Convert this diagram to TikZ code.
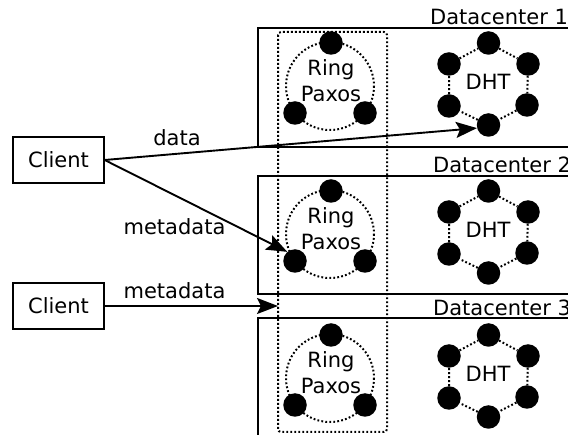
\documentclass[tikz,border=0pt]{standalone}
\usepackage{fontspec}
\setmainfont{DejaVu Sans}
\usetikzlibrary{arrows.meta}
\begin{document}
\begin{tikzpicture}[x=1pt,y=-1pt,
  font=\fontsize{21}{24}\selectfont,
  dcbox/.style={draw, line width=1.3pt},
  dots/.style={line width=2pt, dash pattern=on 1.8pt off 2.2pt},
  member/.style={circle, fill=black, minimum size=23.5pt, inner sep=0pt},
  client/.style={draw, line width=1.3pt, minimum width=91pt, minimum height=46pt, inner sep=0pt},
  msg/.style={line width=1.9pt, -{Stealth[length=21pt,width=16pt,inset=4pt]}},
  lbl/.style={anchor=base, inner sep=0pt}
]
\useasboundingbox (0,0) rectangle (568,435);
\clip (0,0) rectangle (568,435);

% one datacenter: frame, Ring Paxos group and DHT ring
\foreach \i/\dy/\by/\bb/\lx/\lb in {1/0/28/147/430/25, 2/148/176/294/433/173, 3/292/318/460/433/316}{
  \draw[dcbox] (258,\by) rectangle (580,\bb);
  \node[lbl, anchor=base west] (dc\i) at (\lx,\lb) {Datacenter \i};
  % Ring Paxos
  \draw[dots] (330,86+\dy) circle[radius=44];
  \node[member] (r\i-t) at (331,43+\dy) {};
  \node[member] (r\i-l) at (295,113+\dy) {};
  \node[member] (r\i-r) at (365,113+\dy) {};
  \node[lbl] (r\i-ring) at (331,76+\dy) {Ring};
  \node[lbl] (r\i-paxos) at (331,102+\dy) {Paxos};
  % DHT
  \node[member] (d\i-a) at (488.5,43+\dy) {};
  \node[member] (d\i-b) at (528,64+\dy) {};
  \node[member] (d\i-c) at (527,105+\dy) {};
  \node[member] (d\i-d) at (488.5,125+\dy) {};
  \node[member] (d\i-e) at (449,106+\dy) {};
  \node[member] (d\i-f) at (449,64+\dy) {};
  \draw[dots] (d\i-a) -- (d\i-b) -- (d\i-c) -- (d\i-d) -- (d\i-e) -- (d\i-f) -- (d\i-a);
  \node[lbl] (d\i-txt) at (488,90+\dy) {DHT};
}

% Ring Paxos group spanning all datacenters
\draw[dots, rounded corners=3pt] (278,32) rectangle (387,432);

% clients
\node[client] (c1) at (58.5,160) {Client};
\node[client] (c2) at (58.5,306) {Client};

% messages
\draw[msg] (c1.east) -- (d1-d.195);
\node[lbl] (ldata) at (177,146) {data};
\draw[msg] (c1.east) -- (r2-l.130);
\node[lbl] (lmeta1) at (174.5,235) {metadata};
\coordinate (m2tip) at (278,306);
\draw[msg] (c2.east) -- (m2tip);
\node[lbl] (lmeta2) at (174.5,299) {metadata};
\end{tikzpicture}
\end{document}
